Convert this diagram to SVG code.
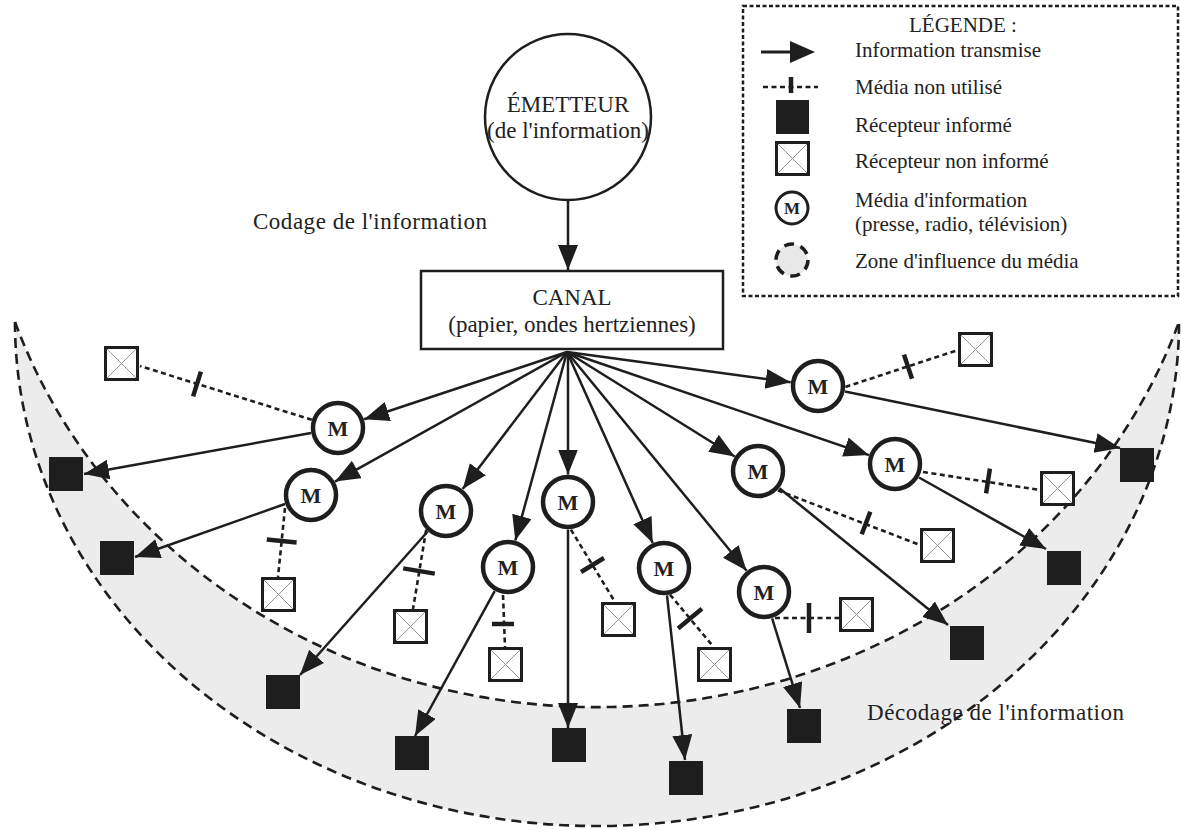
<svg xmlns="http://www.w3.org/2000/svg" xmlns:xlink="http://www.w3.org/1999/xlink" width="1181" height="830" viewBox="0 0 1181 830">
<defs>
<marker id="arr" markerUnits="userSpaceOnUse" markerWidth="28" markerHeight="22" refX="25" refY="10" orient="auto">
<path d="M0,0 L25,10 L0,20 z" fill="#1e1e1e"/>
</marker>
<g id="xs">
<rect x="1.5" y="1.5" width="32" height="32" fill="#fff" stroke="#1e1e1e" stroke-width="3"/>
<path d="M3,3 L32,32 M32,3 L3,32" stroke="#888" stroke-width="0.9"/>
</g>
</defs>
<style>
.t{font-family:"Liberation Serif","Times New Roman",serif;fill:#222}
.main{font-size:23px}
.leg{font-size:21px}
.c{text-anchor:middle}
.mt{font-family:"Liberation Serif","Times New Roman",serif;font-weight:bold;font-size:22px;fill:#222;text-anchor:middle}
.med{fill:#fff;stroke:#1e1e1e;stroke-width:4.5}
.blk{fill:#1e1e1e}
.sol{stroke:#1e1e1e;stroke-width:2.5;fill:none;marker-end:url(#arr)}
.dsh{stroke:#1e1e1e;stroke-width:2.6;stroke-dasharray:5 3.5;fill:none}
.tick{stroke:#1e1e1e;stroke-width:4.5;fill:none}
.arc{fill:none;stroke:#1e1e1e;stroke-width:2.6;stroke-dasharray:10 6}
</style>

<g id="zone">
<path d="M15,322 A582,504 0 0 0 1179,322 A615,569 0 0 1 15,322 Z" fill="#ececec"/>
<path class="arc" d="M15,322 A582,504 0 0 0 1179,322"/>
<path class="arc" d="M15,322 A615,569 0 0 0 1179,322"/>
</g>

<g id="labels">
<text class="t main" x="253" y="229" textLength="234" lengthAdjust="spacing">Codage de l'information</text>
<text class="t main" x="867" y="720" textLength="257" lengthAdjust="spacing">Décodage de l'information</text>
</g>

<g id="connectors">
<line class="sol" x1="568" y1="200" x2="568" y2="270"/>
<line class="sol" x1="567" y1="352" x2="364.1" y2="419.3"/>
<line class="sol" x1="567" y1="352" x2="335" y2="481.6"/>
<line class="sol" x1="567" y1="352" x2="462.7" y2="489.1"/>
<line class="sol" x1="567" y1="352" x2="515.3" y2="540.5"/>
<line class="sol" x1="568" y1="352" x2="568" y2="474.5"/>
<line class="sol" x1="567" y1="352" x2="652.7" y2="542.9"/>
<line class="sol" x1="567" y1="352" x2="746.6" y2="570.7"/>
<line class="sol" x1="567" y1="352" x2="734.7" y2="456.5"/>
<line class="sol" x1="567" y1="352" x2="790.7" y2="382.3"/>
<line class="sol" x1="567" y1="352" x2="869" y2="455.1"/>

<line class="sol" x1="311" y1="433" x2="84" y2="474"/>
<line class="sol" x1="285" y1="504" x2="135" y2="557"/>
<line class="sol" x1="427.7" y1="531.5" x2="300" y2="675"/>
<line class="sol" x1="494.7" y1="591.1" x2="415" y2="736"/>
<line class="sol" x1="568" y1="529.5" x2="568" y2="728"/>
<line class="sol" x1="667" y1="595.3" x2="685" y2="760"/>
<line class="sol" x1="772.1" y1="618.3" x2="800" y2="708"/>
<line class="sol" x1="779.4" y1="488.3" x2="948" y2="625"/>
<line class="sol" x1="845" y1="391.5" x2="1120" y2="448"/>
<line class="sol" x1="919" y1="477.5" x2="1046" y2="549"/>

<line class="dsh" x1="311.8" y1="419.8" x2="140" y2="366"/>
<line class="tick" x1="193.1" y1="396.4" x2="200.9" y2="371.6"/>
<line class="dsh" x1="285" y1="508" x2="278" y2="577"/>
<line class="tick" x1="266.8" y1="539.5" x2="296.6" y2="542.5"/>
<line class="dsh" x1="426.2" y1="529.8" x2="413" y2="609"/>
<line class="tick" x1="403.2" y1="568.4" x2="434.8" y2="573.6"/>
<line class="dsh" x1="503" y1="595" x2="505" y2="647"/>
<line class="tick" x1="492" y1="624" x2="514" y2="624"/>
<line class="dsh" x1="570.9" y1="529.6" x2="615" y2="602"/>
<line class="tick" x1="581" y1="572" x2="604" y2="558"/>
<line class="dsh" x1="670" y1="594.6" x2="712" y2="645"/>
<line class="tick" x1="678.1" y1="628.5" x2="701.9" y2="608.7"/>
<line class="dsh" x1="775" y1="618" x2="839" y2="618"/>
<line class="tick" x1="809" y1="603" x2="809" y2="633"/>
<line class="dsh" x1="777.9" y1="490.4" x2="920" y2="545"/>
<line class="tick" x1="870.3" y1="511.8" x2="861.7" y2="534.2"/>
<line class="dsh" x1="845.5" y1="386.9" x2="958" y2="350"/>
<line class="tick" x1="904" y1="354.6" x2="912" y2="378.7"/>
<line class="dsh" x1="923" y1="472" x2="1040" y2="490"/>
<line class="tick" x1="986.1" y1="493.4" x2="989.9" y2="468.6"/>
</g>

<g id="emetteur">
<circle cx="568" cy="117" r="83" fill="#fff" stroke="#1e1e1e" stroke-width="2.5"/>
<text class="t main c" x="568" y="112">ÉMETTEUR</text>
<text class="t main c" x="568" y="138">(de l'information)</text>
</g>

<g id="canal">
<rect x="421" y="271" width="302" height="78" fill="#fff" stroke="#1e1e1e" stroke-width="2.5"/>
<text class="t main c" x="572" y="305">CANAL</text>
<text class="t main c" x="572" y="332">(papier, ondes hertziennes)</text>
</g>

<g id="media-1"><circle class="med" cx="338" cy="428" r="25"/><text class="mt" x="338" y="436">M</text></g>
<g id="media-2"><circle class="med" cx="311" cy="495" r="25"/><text class="mt" x="311" y="503">M</text></g>
<g id="media-3"><circle class="med" cx="446" cy="511" r="25"/><text class="mt" x="446" y="519">M</text></g>
<g id="media-4"><circle class="med" cx="508" cy="567" r="25"/><text class="mt" x="508" y="575">M</text></g>
<g id="media-5"><circle class="med" cx="568" cy="502" r="25"/><text class="mt" x="568" y="510">M</text></g>
<g id="media-6"><circle class="med" cx="664" cy="568" r="25"/><text class="mt" x="664" y="576">M</text></g>
<g id="media-7"><circle class="med" cx="764" cy="592" r="25"/><text class="mt" x="764" y="600">M</text></g>
<g id="media-8"><circle class="med" cx="758" cy="471" r="25"/><text class="mt" x="758" y="479">M</text></g>
<g id="media-9"><circle class="med" cx="818" cy="386" r="25"/><text class="mt" x="818" y="394">M</text></g>
<g id="media-10"><circle class="med" cx="895" cy="464" r="25"/><text class="mt" x="895" y="472">M</text></g>

<g id="informed-1"><rect class="blk" x="49" y="457" width="34" height="34"/></g>
<g id="informed-2"><rect class="blk" x="100" y="541" width="34" height="34"/></g>
<g id="informed-3"><rect class="blk" x="266" y="675" width="34" height="34"/></g>
<g id="informed-4"><rect class="blk" x="395" y="736" width="34" height="34"/></g>
<g id="informed-5"><rect class="blk" x="552" y="728" width="34" height="34"/></g>
<g id="informed-6"><rect class="blk" x="669" y="761" width="34" height="34"/></g>
<g id="informed-7"><rect class="blk" x="787" y="709" width="34" height="34"/></g>
<g id="informed-8"><rect class="blk" x="950" y="626" width="34" height="34"/></g>
<g id="informed-9"><rect class="blk" x="1120" y="448" width="34" height="34"/></g>
<g id="informed-10"><rect class="blk" x="1047" y="551" width="34" height="34"/></g>

<g id="uninformed-1"><use href="#xs" xlink:href="#xs" x="104" y="346"/></g>
<g id="uninformed-2"><use href="#xs" xlink:href="#xs" x="261" y="577"/></g>
<g id="uninformed-3"><use href="#xs" xlink:href="#xs" x="393" y="609"/></g>
<g id="uninformed-4"><use href="#xs" xlink:href="#xs" x="488" y="647"/></g>
<g id="uninformed-5"><use href="#xs" xlink:href="#xs" x="601" y="602"/></g>
<g id="uninformed-6"><use href="#xs" xlink:href="#xs" x="697" y="647"/></g>
<g id="uninformed-7"><use href="#xs" xlink:href="#xs" x="839" y="597"/></g>
<g id="uninformed-8"><use href="#xs" xlink:href="#xs" x="920" y="528"/></g>
<g id="uninformed-9"><use href="#xs" xlink:href="#xs" x="958" y="332"/></g>
<g id="uninformed-10"><use href="#xs" xlink:href="#xs" x="1040" y="471"/></g>

<g id="legend">
<rect x="743" y="6" width="435" height="290" fill="#fff" stroke="#1e1e1e" stroke-width="2.5" stroke-dasharray="4 2.5"/>
<text class="t leg c" x="963" y="32">LÉGENDE :</text>
<line x1="761" y1="52" x2="792" y2="52" stroke="#1e1e1e" stroke-width="3"/>
<path d="M790,41 L815,52 L790,63 z" fill="#1e1e1e"/>
<text class="t leg" x="855" y="57">Information transmise</text>
<line x1="763" y1="87" x2="818" y2="87" stroke="#1e1e1e" stroke-width="2.5" stroke-dasharray="5 3.5"/>
<line x1="791" y1="77" x2="791" y2="93" stroke="#1e1e1e" stroke-width="4.5"/>
<text class="t leg" x="855" y="94">Média non utilisé</text>
<rect class="blk" x="776" y="100" width="33" height="34"/>
<text class="t leg" x="855" y="132">Récepteur informé</text>
<use href="#xs" xlink:href="#xs" x="775" y="141"/>
<text class="t leg" x="855" y="168">Récepteur non informé</text>
<circle cx="792" cy="208" r="16" fill="#fff" stroke="#1e1e1e" stroke-width="3"/>
<text x="792" y="214" font-family="Liberation Serif, serif" font-weight="bold" font-size="17" fill="#222" text-anchor="middle">M</text>
<text class="t leg" x="855" y="207">Média d'information</text>
<text class="t leg" x="855" y="231">(presse, radio, télévision)</text>
<circle cx="792" cy="260" r="16" fill="#e8e8e8" stroke="#1e1e1e" stroke-width="3.5" stroke-dasharray="10 6.75"/>
<text class="t leg" x="855" y="268">Zone d'influence du média</text>
</g>
</svg>
